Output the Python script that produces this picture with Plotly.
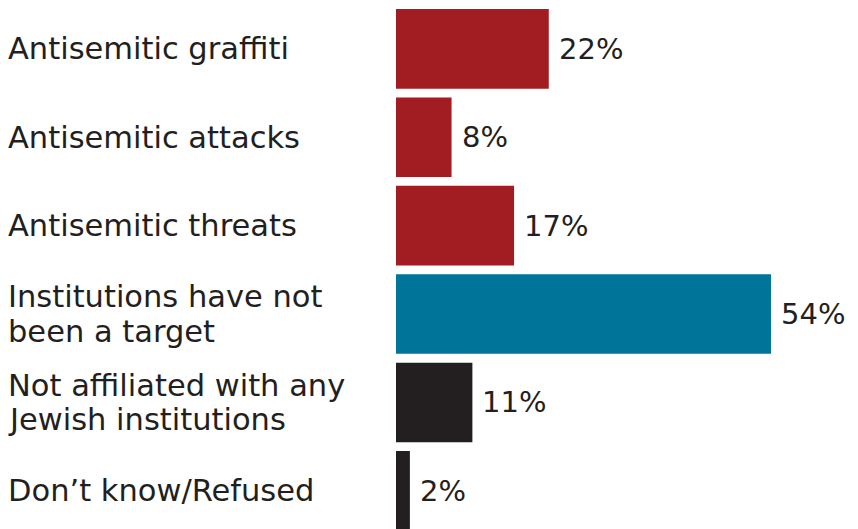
import plotly.graph_objects as go

# Survey responses: attacks on Jewish institutions
categories = [
    "Antisemitic graffiti",
    "Antisemitic attacks",
    "Antisemitic threats",
    "Institutions have not<br>been a target",
    "Not affiliated with any<br>Jewish institutions",
    "Don\u2019t know/Refused",
]
values = [22, 8, 17, 54, 11, 2]
value_labels = ["22%", "8%", "17%", "54%", "11%", "2%"]
bar_colors = ["#a11d22", "#a11d22", "#a11d22", "#007599", "#231f20", "#231f20"]

TEXT_COLOR = "#231f20"
FONT = "DejaVu Sans"
LABEL_SIZE = 30.5
VALUE_SIZE = 29
LINE_STEP = 34.5
W, H = 858, 529
LEFT = 396

positions = list(range(len(categories)))

fig = go.Figure(
    go.Bar(
        x=values,
        y=positions,
        orientation="h",
        marker=dict(color=bar_colors, line=dict(width=0)),
        width=0.9,
        hoverinfo="skip",
    )
)

# Category labels, left-aligned in the left margin; multi-line labels
# are laid out line by line for a tighter line spacing
plot_w = W - LEFT
for pos, label in zip(positions, categories):
    lines = label.split("<br>")
    n = len(lines)
    for i, line in enumerate(lines):
        fig.add_annotation(
            x=(6 - LEFT) / plot_w, xref="paper",
            y=pos, yref="y",
            yshift=((n - 1) / 2 - i) * LINE_STEP,
            text=line, showarrow=False,
            xanchor="left", yanchor="middle", align="left",
            font=dict(family=FONT, size=LABEL_SIZE, color=TEXT_COLOR),
        )

# Value labels just past each bar end
for pos, v, lab in zip(positions, values, value_labels):
    fig.add_annotation(
        x=v, xref="x", y=pos, yref="y",
        text=lab, showarrow=False,
        xanchor="left", yanchor="middle", xshift=8,
        font=dict(family=FONT, size=VALUE_SIZE, color=TEXT_COLOR),
    )

fig.update_layout(
    width=W, height=H,
    margin=dict(l=LEFT, r=0, t=0, b=0),
    paper_bgcolor="white", plot_bgcolor="white",
    showlegend=False,
    xaxis=dict(range=[0, plot_w / (375 / 54)], visible=False, fixedrange=True),
    yaxis=dict(range=[5.4316, -0.5526], visible=False, fixedrange=True),
    bargap=0.1,
)

fig.write_html("out.html")
